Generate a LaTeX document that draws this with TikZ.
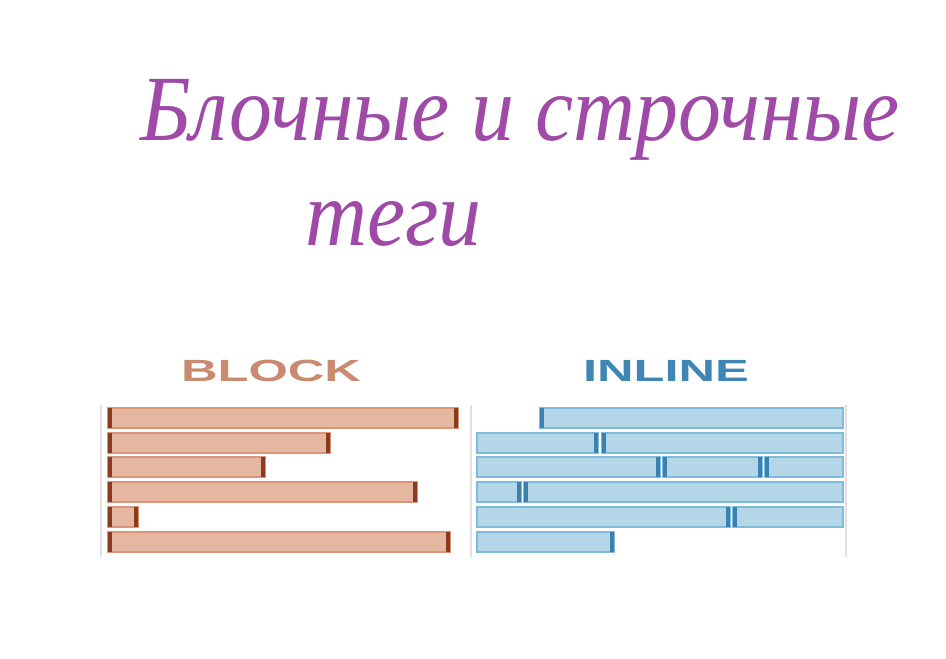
\documentclass[tikz,border=0pt]{standalone}
\usepackage{fontspec}
\newfontfamily\handfont{Liberation Serif}[ItalicFont=* Italic]
\newfontfamily\capsfont{Liberation Sans}[BoldFont=* Bold]
\definecolor{ink}{RGB}{158,74,166}
\definecolor{blockfill}{RGB}{229,183,161}
\definecolor{blockedge}{RGB}{217,150,122}
\definecolor{blockdark}{RGB}{140,58,30}
\definecolor{blocktitle}{RGB}{201,139,112}
\definecolor{inlinefill}{RGB}{179,214,232}
\definecolor{inlineedge}{RGB}{128,188,218}
\definecolor{inlinedark}{RGB}{58,128,176}
\definecolor{inlinetitle}{RGB}{63,134,181}
\definecolor{rulegray}{RGB}{225,225,225}
\begin{document}
\begin{tikzpicture}[x=0.75pt,y=-0.75pt,
    hand/.style={text=ink,font=\handfont\itshape\fontsize{70}{80}\selectfont,xscale=0.92,inner sep=0pt},
    coltitle/.style={font=\capsfont\bfseries\fontsize{23}{25}\selectfont,xscale=1.65,inner sep=0pt},
    rule/.style={draw=rulegray,line width=1.5pt},
    blockbar/.style={fill=blockfill,draw=blockedge,line width=0.8pt},
    inlinebar/.style={fill=inlinefill,draw=inlineedge,line width=0.8pt}]
  \useasboundingbox (0,0) rectangle (946,658);

  % Handwritten heading
  \node[hand,anchor=base west] (head1) at (140,140) {Блочные и строчные};
  \node[hand,anchor=base west] (head2) at (305,245) {теги};

  % Column titles
  \node[coltitle,text=blocktitle] (blocklabel) at (271,371) {BLOCK};
  \node[coltitle,text=inlinetitle] (inlinelabel) at (666,371) {INLINE};

  % Panel rules
  \draw[rule] (101,405) -- (101,557);
  \draw[rule] (471,405) -- (471,557);
  \draw[rule] (846,405) -- (846,557);

  % Block elements: each one takes its own line
  \foreach \y/\e in {408/458,433/330,457/265,482/417,507/138,532/450}{
    \draw[blockbar] (108,\y) rectangle (\e,\y+20);
    \fill[blockdark] (108,\y) rectangle (112,\y+20);
    \fill[blockdark] (\e-4,\y) rectangle (\e,\y+20);
  }

  % Inline elements: they flow on and wrap (\s, \t = opening / closing mark)
  \foreach \y/\a/\b/\s/\t in {408/540/843/1/0,
      433/477/598/0/1, 433/602/843/1/0,
      457/477/660/0/1, 457/663/762/1/1, 457/765/843/1/0,
      482/477/521/0/1, 482/524/843/1/0,
      507/477/730/0/1, 507/733/843/1/0,
      532/477/614/0/1}{
    \draw[inlinebar] (\a,\y) rectangle (\b,\y+20);
    \ifnum\s=1 \fill[inlinedark] (\a,\y) rectangle (\a+4,\y+20); \fi
    \ifnum\t=1 \fill[inlinedark] (\b-4,\y) rectangle (\b,\y+20); \fi
  }
\end{tikzpicture}
\end{document}
